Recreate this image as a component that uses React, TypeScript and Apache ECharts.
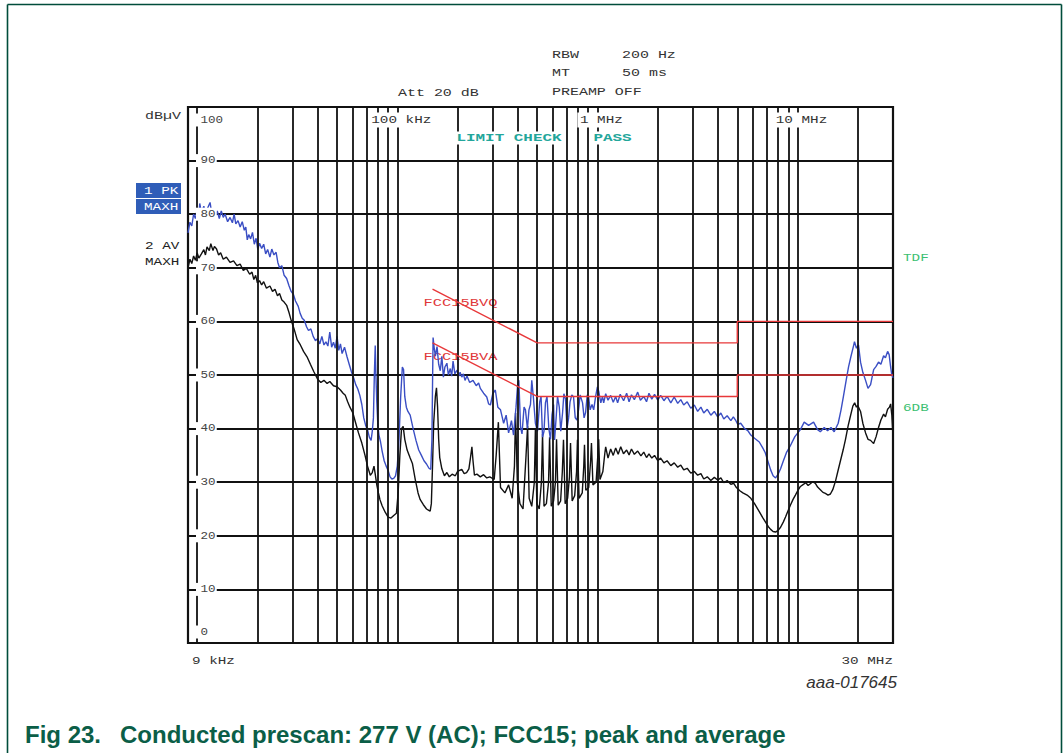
import { useEffect, useRef } from "react";
import * as echarts from "echarts";

// ---- data (frequency in kHz, level in dBµV) ----
const peakTrace: [number, number][] = [
  [9.0, 76.5], [9.2, 78.5], [9.4, 77.8], [9.6, 80], [9.8, 79.2], [10.0, 80.8], [10.2, 79.6], [10.3, 82],
  [10.5, 80.3], [10.8, 81.5], [11.0, 79.8], [11.3, 81.2], [11.6, 82.2], [11.8, 80.4], [12.0, 81], [12.3, 79.6],
  [12.6, 80.6], [12.9, 79.2], [13.2, 80.6], [13.5, 79.4], [13.8, 80], [14.2, 78.6], [14.6, 79.4], [15.0, 78.4],
  [15.3, 80], [15.6, 78.2], [16.0, 78.8], [16.4, 77.6], [16.8, 78.6], [17.2, 77], [17.5, 77.6], [17.8, 75.2],
  [18.1, 76.2], [18.5, 75.4], [18.9, 76.6], [19.3, 74.4], [19.7, 75.5], [20.1, 73.4], [20.5, 74.6], [21.0, 73.6],
  [21.5, 74.4], [22.0, 72.6], [22.5, 73.4], [23.1, 72], [23.6, 73.5], [24.2, 72.4], [24.8, 72.9], [25.3, 71],
  [25.8, 70], [26.5, 70.4], [27.2, 68.6], [28.0, 68], [28.8, 66.6], [29.5, 65.6], [30.3, 65], [31.0, 63.8],
  [32.0, 62.8], [32.7, 61.5], [33.5, 60.6], [34.3, 60.2], [35.2, 59], [36, 58.3], [37, 58.6], [38, 57.2],
  [39, 56.4], [40, 56.8], [41, 55.8], [42, 57.2], [43, 55.6], [44, 56.2], [45, 55.4], [46, 58], [47, 55.2],
  [48, 56.1], [49, 55], [50, 57.2], [51, 54.6], [52, 55.8], [53, 54], [54.5, 55.2], [56, 53.5], [57.5, 52],
  [59, 50.6], [60.5, 49.5], [62, 48.2], [63.5, 47.4], [65, 46.2], [66.5, 44.5], [68, 42], [69.5, 40.6],
  [71, 39.8], [72.5, 38.4], [74, 37.8], [75, 39.5], [76, 42], [76.8, 50], [77.6, 55.5], [78.2, 50], [79, 45],
  [80, 40.5], [81, 38.8], [82.5, 37.5], [84, 35.8], [86, 34], [88, 33], [90, 32.2], [92, 31], [94, 30.6],
  [96, 30.7], [98, 31.2], [100, 33], [102, 38], [104, 46], [106, 51.5], [107.5, 51], [109, 46], [111, 44],
  [113, 43.2], [116, 42.5], [120, 40], [124, 37.8], [128, 36], [132, 35], [136, 34], [140, 33.4], [144, 32.6],
  [147, 32.4], [149, 38], [150, 48], [151, 57], [153, 55], [155, 53.5], [158, 55.3], [161, 52], [164, 50.8],
  [167, 53.5], [170, 49.6], [173, 51.5], [177, 52.2], [180, 50], [184, 51.2], [187, 49.8], [190, 52.6],
  [194, 50.2], [199, 50.9], [203, 49.8], [206, 50.5], [210, 49.6], [214, 50.2], [218, 49], [223, 49.8],
  [230, 48.6], [239, 49], [248, 48], [255, 48.5], [260, 47.5], [270, 46.6], [280, 45.9], [286, 44.6],
  [292, 44.4], [300, 46.5], [309, 47.2], [318, 44], [328, 43.5], [340, 41], [350, 42.5], [360, 39.2],
  [372, 41.5], [381, 38.8], [392, 44], [400, 48.5], [405, 49], [413, 40.3], [420, 39], [430, 44], [437, 43.5],
  [447, 40], [455, 43.5], [463, 44.5], [470, 49], [479, 45.7], [490, 41], [502, 39.5], [515, 45], [523, 46],
  [532, 38.4], [541, 39.5], [550, 44.8], [560, 46], [572, 40], [583, 38], [593, 42.5], [604, 44.5], [611, 37.9],
  [622, 42], [632, 46], [645, 44], [656, 39.5], [670, 43], [680, 46.5], [693, 45.5], [705, 40], [718, 42],
  [730, 45], [745, 46.3], [760, 45.9], [775, 42], [790, 41.6], [805, 43.5], [820, 46.3], [843, 44.8],
  [858, 42], [873, 43], [890, 46.3], [904, 45.9], [920, 43.5], [940, 44.5], [958, 43.5], [980, 46],
  [1000, 47.8], [1015, 47], [1040, 44.8], [1060, 46], [1075, 44.8], [1100, 46.5], [1130, 45.3], [1165, 46.2],
  [1200, 44.9], [1234, 46], [1262, 44.8], [1300, 46.4], [1352, 45.2], [1400, 46.6], [1440, 45], [1480, 46.3],
  [1530, 45.4], [1590, 46.8], [1640, 45.3], [1705, 46], [1760, 45], [1810, 46.6], [1870, 45.5], [1930, 46.4],
  [2003, 45.3], [2070, 46.2], [2150, 45.2], [2230, 46], [2327, 44.8], [2420, 45.9], [2520, 44.7], [2610, 45.4],
  [2700, 44.4], [2810, 45], [2929, 43.8], [3050, 44.4], [3170, 43.2], [3290, 44], [3400, 42.9], [3540, 43.6],
  [3688, 42.5], [3840, 43.2], [3990, 42.2], [4140, 42.9], [4280, 41.8], [4450, 42.4], [4643, 41.5], [4780, 42.2],
  [4900, 41.6], [5030, 40.8], [5200, 41], [5440, 40], [5650, 39.6], [5843, 38.8], [6100, 38.2], [6440, 37.5],
  [6700, 36.4], [6900, 35.5], [7100, 34], [7340, 32.3], [7550, 31.2], [7770, 30.8], [8000, 31.5], [8230, 32.5],
  [8500, 34], [8800, 35.5], [9210, 36.8], [9700, 38.5], [10340, 39.8], [10800, 41.2], [11360, 40.6],
  [12030, 41.2], [12600, 39.8], [13000, 39.4], [13600, 40.2], [14130, 39.6], [14700, 40.2], [15250, 39.4],
  [15970, 41], [16500, 43.5], [16960, 46], [17500, 49], [17990, 51.5], [18500, 53.5], [19040, 55.4],
  [19260, 56.2], [19700, 55], [20170, 55.6], [20650, 52.4], [21200, 50.5], [21880, 49], [22500, 47.5],
  [23180, 48.2], [24010, 51], [24700, 51.6], [25400, 52.4], [26100, 52], [26930, 53.6], [27500, 53.2],
  [28200, 54.4], [28700, 53.8], [29190, 51.5], [29600, 50], [30000, 49.5]
];

const averageTrace: [number, number][] = [
  [9.0, 70], [9.2, 71.6], [9.4, 70.8], [9.6, 72.2], [9.8, 71.4], [10.0, 72.8], [10.2, 71.8], [10.5, 72.6],
  [10.8, 73.4], [11.0, 72.4], [11.2, 73.9], [11.5, 73.2], [11.7, 74.5], [12.0, 73.2], [12.2, 74], [12.5, 73.5],
  [12.8, 72.4], [13.1, 72.8], [13.5, 71.6], [14.0, 72], [14.6, 71], [15.2, 71.3], [15.8, 70.4], [16.4, 70.7],
  [17.0, 69.5], [17.6, 69.9], [18.3, 68.8], [18.8, 69.2], [19.2, 67.8], [19.6, 68.6], [20.0, 67.2], [20.5, 67.6],
  [21.0, 66.8], [21.5, 67.4], [22.2, 66.2], [23.1, 66.6], [23.8, 65.6], [24.5, 66], [25.2, 64.8], [25.8, 65.2],
  [26.5, 64], [27.2, 63.6], [28.0, 63], [28.8, 61.6], [29.5, 60.2], [30.5, 58.6], [31.6, 56.6], [32.8, 55.6],
  [34, 54.4], [35.4, 53.4], [36.8, 52], [38.3, 50.6], [40, 49.2], [41.5, 48.6], [43, 49], [44.6, 48.4],
  [46, 48.8], [48, 48], [50, 47.8], [52, 47.2], [53.6, 46.6], [55, 46.2], [56.5, 45], [58, 44], [60, 42.9],
  [62, 41], [64, 39.2], [66.5, 37.3], [69, 35], [71, 33], [73.3, 31.3], [75, 31.8], [76.5, 33], [77.6, 31.5],
  [79, 29.5], [80.5, 28], [82, 26.7], [84, 25.6], [87, 24.4], [90, 23.5], [93, 23.3], [96, 23.8], [99, 24.2],
  [101, 28], [103, 35], [105, 40], [107, 40.4], [109, 38], [112, 36], [116, 34.5], [119, 33.5], [123, 30.5],
  [127, 28], [130, 26.8], [135, 25.8], [140, 25], [143, 24.8], [146, 24.6], [148, 26], [150, 33], [152, 41],
  [155, 46], [157, 47.6], [159, 44], [161, 38], [163, 34.6], [167, 32.5], [172, 31.2], [177, 31.8], [182, 31],
  [188, 31.5], [195, 31.2], [200, 32], [210, 32.4], [216, 31.6], [222, 31.8], [228, 32.5], [232, 34.5],
  [236, 36.6], [239, 34], [243, 31.3], [250, 31.5], [260, 31], [270, 31.4], [280, 30.8], [290, 31],
  [305, 30.5], [312, 35], [320, 41.2], [328, 29], [345, 28], [360, 29.5], [375, 27], [385, 33], [390, 42.9],
  [398, 30], [410, 26], [425, 25], [440, 35], [448, 40.5], [456, 27], [470, 25.5], [484, 30], [490, 40],
  [498, 26], [512, 25], [525, 30], [532, 39], [541, 25.5], [556, 26], [570, 30], [577, 38.4], [588, 25.5],
  [604, 26.5], [617, 30], [625, 38], [637, 25.7], [655, 26.5], [668, 32], [677, 37.9], [690, 26], [710, 27],
  [725, 31], [734, 37.3], [748, 26.5], [770, 27.5], [787, 32], [795, 37.9], [810, 27], [840, 28], [855, 33],
  [862, 37], [875, 28.5], [905, 29], [925, 34], [934, 37.3], [950, 29.5], [985, 30], [1005, 35], [1015, 38],
  [1030, 30.5], [1065, 32], [1090, 35.5], [1100, 36.6], [1130, 34.5], [1165, 36.2], [1200, 35], [1234, 36.4],
  [1270, 35.2], [1308, 36.6], [1350, 35.3], [1400, 36], [1440, 35.1], [1480, 36.2], [1530, 35.2], [1590, 35.8],
  [1650, 34.9], [1705, 35.6], [1760, 34.6], [1810, 35.3], [1870, 34.5], [1930, 35], [2003, 34], [2070, 34.5],
  [2150, 33.6], [2230, 34], [2327, 33.1], [2420, 33.6], [2520, 32.8], [2610, 33.2], [2700, 32.3], [2810, 32.6],
  [2929, 31.7], [3050, 32], [3170, 31.3], [3290, 31.6], [3400, 30.6], [3540, 31], [3688, 30.3], [3840, 30.9],
  [3990, 30.4], [4140, 30.8], [4280, 29.9], [4450, 30.3], [4643, 29.6], [4800, 29.8], [4950, 29], [5150, 28.4],
  [5330, 28], [5600, 27.6], [5843, 27], [6100, 26], [6440, 24.5], [6700, 23.4], [6934, 22.5], [7150, 21.7],
  [7340, 21.2], [7550, 20.8], [7770, 20.7], [8000, 21], [8230, 21.6], [8500, 22.6], [8710, 23.5], [9000, 24.8],
  [9210, 25.7], [9500, 26.8], [9760, 27.6], [10050, 28.5], [10340, 29.2], [10700, 29.6], [11000, 29.9],
  [11300, 29.4], [11590, 29.7], [11900, 30.1], [12280, 29.8], [12600, 29.1], [13000, 28.6], [13400, 28.1],
  [13780, 27.9], [14200, 27.6], [14600, 27.8], [15000, 28.6], [15480, 30.2], [15900, 32], [16390, 34],
  [16900, 36], [17370, 38], [17900, 40.5], [18400, 42.4], [18900, 44.2], [19300, 44.8], [19700, 44],
  [20000, 44.3], [20650, 43.2], [21200, 41], [21880, 39.2], [22500, 38], [23180, 37.8], [24010, 37.2],
  [24700, 38.5], [25400, 40.2], [26100, 41.6], [26930, 42.7], [27500, 42.2], [28200, 43.6], [28800, 44],
  [29190, 44.6], [29600, 42.5], [30000, 38.5]
];

const limitFreqKHz = [150, 500, 5000, 5000, 30000];
const qpLimitDb = [66, 56, 56, 60, 60];
const avLimitDb = [56, 46, 46, 50, 50];

const gridFreqKHz = [
  10, 20, 30, 40, 50, 60, 70, 80, 90,
  100, 200, 300, 400, 500, 600, 700, 800, 900,
  1000, 2000, 3000, 4000, 5000, 6000, 7000, 8000, 9000,
  10000, 20000
];
const levelTicks = [0, 10, 20, 30, 40, 50, 60, 70, 80, 90, 100];
const decadeLabels = [
  { f: 100, text: "100 kHz" },
  { f: 1000, text: "1 MHz" },
  { f: 10000, text: "10 MHz" }
];

const MONO = '"Liberation Mono", "DejaVu Sans Mono", monospace';
const SANS = '"Liberation Sans", Arial, sans-serif';

type TxtOpt = {
  size?: number; color?: string; align?: string; scaleX?: number; bg?: string;
  z?: number; weight?: string; padding?: number[];
};

function monoText(text: string, x: number, y: number, o: TxtOpt = {}) {
  const align = o.align ?? "left";
  return {
    type: "text",
    x, y,
    z: o.z ?? 10,
    scaleX: o.scaleX ?? 1.36,
    silent: true,
    style: {
      text,
      fill: o.color ?? "#333",
      font: `${o.weight ?? "normal"} ${o.size ?? 11}px ${MONO}`,
      textAlign: align, align,
      textVerticalAlign: "middle", verticalAlign: "middle",
      backgroundColor: o.bg,
      padding: o.bg ? (o.padding ?? [1, 2, 1, 2]) : undefined
    }
  };
}

export default function App() {
  const ref = useRef<HTMLDivElement>(null);

  useEffect(() => {
    if (!ref.current) return;
    const chart = echarts.init(ref.current, null, { renderer: "svg" });
    const GL = 188, GT = 107, GR = 893, GB = 643;

    const option: any = {
      animation: false,
      backgroundColor: "#ffffff",
      grid: {
        left: GL, top: GT, right: 1063 - GR, bottom: 753 - GB,
        show: true, borderColor: "#111", borderWidth: 2.2, backgroundColor: "transparent"
      },
      xAxis: {
        type: "log", logBase: 10, min: 9, max: 30000,
        axisLine: { show: false }, axisTick: { show: false },
        axisLabel: { show: false }, splitLine: { show: false }, minorSplitLine: { show: false }
      },
      yAxis: {
        type: "value", min: 0, max: 100, interval: 10,
        axisLine: { show: false }, axisTick: { show: false }, axisLabel: { show: false },
        splitLine: { show: true, lineStyle: { color: "#111", width: 1.8 } }
      },
      series: [
        {
          name: "grid", type: "line", data: [], z: 1, silent: true,
          markLine: {
            silent: true, symbol: "none", animation: false,
            label: { show: false },
            lineStyle: { color: "#111", width: 1.8, type: "solid" },
            emphasis: { disabled: true },
            data: gridFreqKHz.map((f) => ({ xAxis: f }))
          }
        },
        {
          name: "2 AV MAXH", type: "line", z: 3, symbol: "none", showSymbol: false,
          lineStyle: { color: "#111111", width: 1.4 },
          data: averageTrace
        },
        {
          name: "1 PK MAXH", type: "line", z: 4, symbol: "none", showSymbol: false,
          lineStyle: { color: "#3a4ec4", width: 1.4 },
          data: peakTrace
        },
        {
          name: "FCC15BVQ", type: "line", z: 5, symbol: "none", showSymbol: false,
          lineStyle: { color: "#e8383a", width: 1.4 },
          data: limitFreqKHz.map((f, i) => [f, qpLimitDb[i]])
        },
        {
          name: "FCC15BVA", type: "line", z: 5, symbol: "none", showSymbol: false,
          lineStyle: { color: "#e8383a", width: 1.4 },
          data: limitFreqKHz.map((f, i) => [f, avLimitDb[i]])
        }
      ]
    };
    chart.setOption(option);

    const px = (f: number, v: number) =>
      chart.convertToPixel({ gridIndex: 0 }, [f, v]) as number[];

    const graphic: any[] = [];

    // outer frame
    const frame = { stroke: "#004d3b", lineWidth: 1.6 };
    graphic.push({ type: "line", z: 20, silent: true, shape: { x1: 7.5, y1: 4.5, x2: 1061.5, y2: 4.5 }, style: frame });
    graphic.push({ type: "line", z: 20, silent: true, shape: { x1: 7.5, y1: 4.5, x2: 7.5, y2: 753 }, style: frame });
    graphic.push({ type: "line", z: 20, silent: true, shape: { x1: 1061.5, y1: 4.5, x2: 1061.5, y2: 753 }, style: frame });

    // level labels inside plot
    levelTicks.forEach((v) => {
      const p = px(9, v);
      let y = p[1];
      if (v === 100) y += 13;
      if (v === 0) y -= 11;
      graphic.push(monoText(String(v), p[0] + 8, y, { scaleX: 1.14, bg: "#fff", padding: [1, 1, 1, 4], color: "#444" }));
    });

    // decade labels at top
    decadeLabels.forEach((d) => {
      const p = px(d.f, 100);
      graphic.push(monoText(d.text, p[0] + 4, p[1] + 13, { align: "center", bg: "#fff", padding: [2, 2, 2, 2], scaleX: 1.3 }));
    });

    // frequency span labels below plot
    const pMin = px(9, 0);
    const pMax = px(30000, 0);
    graphic.push(monoText("9 kHz", pMin[0] + 4, pMin[1] + 18, { scaleX: 1.3 }));
    graphic.push(monoText("30 MHz", pMax[0], pMax[1] + 18, { align: "right", scaleX: 1.3 }));

    // limit line labels
    const q0 = px(limitFreqKHz[0], qpLimitDb[0]);
    const a0 = px(limitFreqKHz[0], avLimitDb[0]);
    graphic.push(monoText("FCC15BVQ", q0[0] - 9, q0[1] + 14, { color: "#e0383a", z: 2, scaleX: 1.4 }));
    graphic.push(monoText("FCC15BVA", a0[0] - 9, a0[1] + 14, { color: "#e0383a", z: 2, scaleX: 1.4 }));

    // header
    graphic.push(monoText("Att 20 dB", 398, 93));
    graphic.push(monoText("RBW", 552, 55));
    graphic.push(monoText("200 Hz", 622, 55));
    graphic.push(monoText("MT", 552, 73));
    graphic.push(monoText("50 ms", 622, 73));
    graphic.push(monoText("PREAMP OFF", 552, 92));
    graphic.push(monoText("dBµV", 145, 116));

    // limit check
    graphic.push(monoText("LIMIT CHECK", 455, 138, { color: "#23a69b", bg: "#fff", weight: "bold", scaleX: 1.45, padding: [1, 1, 1, 1] }));
    graphic.push(monoText("PASS", 592, 138, { color: "#23a69b", bg: "#fff", weight: "bold", scaleX: 1.45, padding: [1, 1, 1, 1] }));

    // trace legend
    graphic.push({ type: "rect", z: 10, silent: true, shape: { x: 136, y: 183, width: 45, height: 15 }, style: { fill: "#2f5db8" } });
    graphic.push({ type: "rect", z: 10, silent: true, shape: { x: 136, y: 199, width: 45, height: 15 }, style: { fill: "#2f5db8" } });
    graphic.push(monoText("1 PK", 144, 191, { color: "#fff", z: 11, scaleX: 1.3 }));
    graphic.push(monoText("MAXH", 144, 207, { color: "#fff", z: 11, scaleX: 1.3 }));
    graphic.push(monoText("2 AV", 145, 246, { color: "#222", scaleX: 1.3 }));
    graphic.push(monoText("MAXH", 145, 262, { color: "#222", scaleX: 1.3 }));

    // right side markers
    graphic.push(monoText("TDF", GR + 10, 258, { color: "#3cbf72", scaleX: 1.3 }));
    graphic.push(monoText("6DB", GR + 10, 408, { color: "#3cbf72", scaleX: 1.3 }));

    // figure id & caption
    graphic.push({
      type: "text", z: 10, silent: true, x: 897, y: 682,
      style: { text: "aaa-017645", fill: "#333", font: `italic 17px ${SANS}`, textAlign: "right", align: "right", textVerticalAlign: "middle", verticalAlign: "middle" }
    });
    graphic.push({
      type: "text", z: 10, silent: true, x: 25, y: 734,
      style: { text: "Fig 23.", fill: "#0b5e47", font: `bold 24px ${SANS}`, textAlign: "left", align: "left", textVerticalAlign: "middle", verticalAlign: "middle" }
    });
    graphic.push({
      type: "text", z: 10, silent: true, x: 120, y: 734,
      style: { text: "Conducted prescan: 277 V (AC); FCC15; peak and average", fill: "#0b5e47", font: `bold 24px ${SANS}`, textAlign: "left", align: "left", textVerticalAlign: "middle", verticalAlign: "middle" }
    });

    chart.setOption({ graphic });

    return () => chart.dispose();
  }, []);

  return (
    <div
      ref={ref}
      style={{ position: "fixed", left: 0, top: 0, width: 1063, height: 753, background: "#fff" }}
    />
  );
}
